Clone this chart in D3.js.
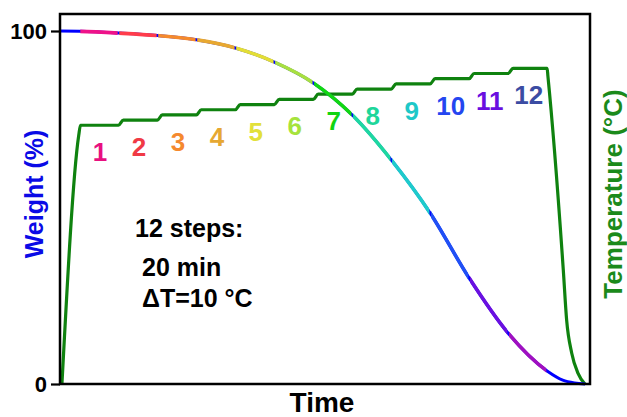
<!DOCTYPE html>
<html>
<head>
<meta charset="utf-8">
<script src="https://cdn.jsdelivr.net/npm/d3@7"></script>
<style>
  body { margin: 0; background: #fff; }
  text { font-family: "Liberation Sans", Arial, sans-serif; font-weight: bold; }
</style>
</head>
<body>
<div id="chart"></div>
<script>
// weight curve (time in min, weight in %)
var weightTime  = [0, 10, 30, 50, 70, 90, 110, 130, 150, 170, 190, 210, 230, 250, 258, 264, 269.5]
var weightValue = [100, 99.9, 99.4, 98.7, 97.5, 95.2, 91.2, 85.3, 76.2, 63.5, 48.4, 30.0, 14.4, 3.7, 1.1, 0.3, 0]

// temperature programme: heat up, 12 isothermal steps, cool down
var heatTime  = [1, 9.6]
var heatTemp  = [0, 480]
var stepStart = [10.5, 32.5, 52.5, 72.5, 92.5, 112.5, 132.5, 152.5, 172.5, 192.5, 212.5, 232.5]
var stepEnd   = [30, 50, 70, 90, 110, 130, 150, 170, 190, 210, 230, 250]
var stepTemp  = [500, 510, 520, 530, 540, 550, 560, 570, 580, 590, 600, 610]
var coolTime  = [250.4, 258.3, 260.0, 262.6, 265.8, 269.4]
var coolTemp  = [595, 220, 124, 60, 21, 0]

var stepLabels = ["1","2","3","4","5","6","7","8","9","10","11","12"]
var segColors = ["#ee1289","#ff3c4b","#f58a2c","#e8a830","#e3de35","#a8e040",
                 "#11d811","#1ed8a0","#1ecbcb","#2050f5","#6a10e0","#a010c0"]
var labelColors = ["#e8107f","#f03a45","#f5892e","#e6a832","#e2e03a","#a6e33c",
                   "#11d411","#1ed69a","#1ec8c8","#2446f0","#6a0ee0","#3b4ca3"]
var notes = ["12 steps:", "20 min", "\u0394T=10 \u00b0C"]

var W = 627, H = 417
var pLeft = 60, pRight = 590, pTop = 14, pBottom = 384

var svg = d3.select("#chart").append("svg").attr("width", W).attr("height", H)

var x = d3.scaleLinear().domain([0, 272]).range([pLeft, pRight])
var yW = d3.scaleLinear().domain([0, 100]).range([pBottom, 31])
var yT = d3.scaleLinear().domain([0, 715]).range([pBottom, pTop])

// weight data
var wData = weightTime.map(function(t, i){ return [t, weightValue[i]] })

// temperature data
var tData = []
heatTime.forEach(function(t, i){ tData.push([t, heatTemp[i]]) })
for (var s = 0; s < stepTemp.length; s++) {
    tData.push([stepStart[s], stepTemp[s]])
    tData.push([stepEnd[s], stepTemp[s]])
}
coolTime.forEach(function(t, i){ tData.push([t, coolTemp[i]]) })

var wLine = d3.line().x(function(d){ return x(d[0]) }).y(function(d){ return yW(d[1]) }).curve(d3.curveMonotoneX)
var tLine = d3.line().x(function(d){ return x(d[0]) }).y(function(d){ return yT(d[1]) }).curve(d3.curveMonotoneX)

// clip paths for coloured segments of the weight curve
var defs = svg.append("defs")
for (var i = 0; i < 12; i++) {
    defs.append("clipPath").attr("id", "seg" + i)
        .append("rect")
        .attr("x", x(stepEnd[i] - 20) + 0.8)
        .attr("y", 0)
        .attr("width", x(stepEnd[i]) - x(stepEnd[i] - 20) - 1.6)
        .attr("height", H)
}

// temperature
svg.append("path").attr("d", tLine(tData))
    .attr("fill", "none").attr("stroke", "#0f820f").attr("stroke-width", 3.2)

// weight: blue base then coloured steps
svg.append("path").attr("d", wLine(wData))
    .attr("fill", "none").attr("stroke", "#0000ff").attr("stroke-width", 3)
for (var i = 0; i < 12; i++) {
    svg.append("path").attr("d", wLine(wData))
        .attr("clip-path", "url(#seg" + i + ")")
        .attr("fill", "none").attr("stroke", segColors[i]).attr("stroke-width", 3.6)
}

// frame
svg.append("rect").attr("x", pLeft).attr("y", pTop)
    .attr("width", pRight - pLeft).attr("height", pBottom - pTop)
    .attr("fill", "none").attr("stroke", "#000").attr("stroke-width", 2.5)

// left axis
var ax = svg.append("g").attr("transform", "translate(" + pLeft + ",0)")
    .call(d3.axisLeft(yW).tickValues([0, 100]).tickSize(9).tickPadding(4))
ax.select(".domain").remove()
ax.selectAll("line").attr("stroke-width", 2.2)
ax.selectAll("text").attr("font-size", 22).attr("fill", "#000")
    .attr("font-family", "Liberation Sans, Arial, sans-serif").attr("font-weight", "bold")

// step numbers
svg.selectAll(".step").data(stepLabels).enter().append("text")
    .attr("x", function(d, i){ return x(stepEnd[i] - 10) + 1 })
    .attr("y", function(d, i){ return yT(stepTemp[i]) + 36 })
    .attr("text-anchor", "middle")
    .attr("font-size", 26)
    .attr("fill", function(d, i){ return labelColors[i] })
    .text(function(d){ return d })

// notes
svg.append("text").attr("x", 135).attr("y", 237).attr("font-size", 25).text(notes[0])
svg.append("text").attr("x", 142).attr("y", 276).attr("font-size", 25).text(notes[1])
svg.append("text").attr("x", 142).attr("y", 307).attr("font-size", 25).text(notes[2])

// axis titles
svg.append("text").attr("transform", "translate(43,194) rotate(-90)")
    .attr("text-anchor", "middle").attr("font-size", 25).attr("fill", "#0a0ae6")
    .text("Weight (%)")
svg.append("text").attr("transform", "translate(622,194) rotate(-90)")
    .attr("text-anchor", "middle").attr("font-size", 26).attr("fill", "#1b8a1b")
    .text("Temperature (\u00b0C)")
svg.append("text").attr("x", 322).attr("y", 412)
    .attr("text-anchor", "middle").attr("font-size", 28).text("Time")
</script>
</body>
</html>
